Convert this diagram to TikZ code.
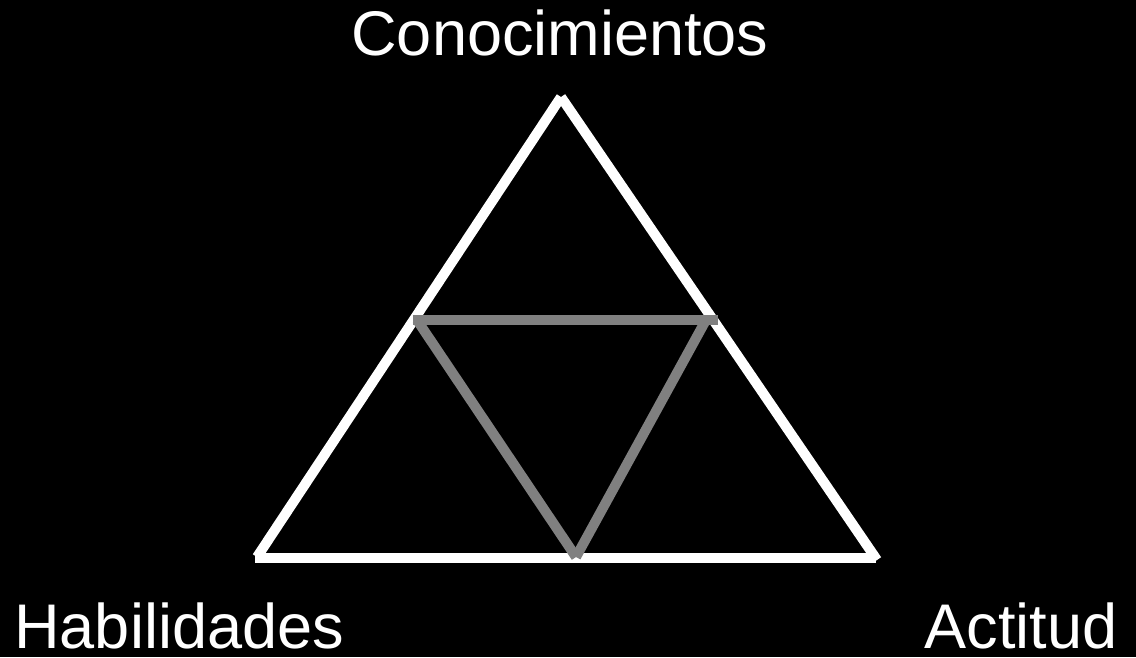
\documentclass[tikz,border=0pt]{standalone}
\usepackage{fontspec}
\setmainfont{Liberation Sans}
\begin{document}
\begin{tikzpicture}[%
      x=0.02cm,y=-0.02cm,
      side/.style={line width=0.2cm,white},
      inner/.style={line width=0.2cm,gray},
      cornertext/.style={text=white,inner sep=0pt,font=\fontsize{35.9}{43}\selectfont}
      ]
      \fill[black] (0,0) rectangle (1136,657);
      \useasboundingbox (0,0) rectangle (1136,657);
      % outer triangle
      \coordinate (top) at (561,97);
      \coordinate (bl) at (257,557);
      \coordinate (br) at (877,560);
      \coordinate (bl2) at (255,558);
      \coordinate (br2) at (876,558);
      \draw[side] (top) -- (bl);
      \draw[side] (top) -- (br);
      \draw[side] (bl2) -- (br2);
      % inner triangle
      \coordinate (hl) at (413,320);
      \coordinate (hr) at (718,320);
      \coordinate (dl) at (417,320);
      \coordinate (dr) at (706,320);
      \coordinate (db) at (576,557);
      \draw[inner] (hl) -- (hr);
      \draw[inner] (dl) -- (db);
      \draw[inner] (dr) -- (db);
      % labels
      \draw (560,55) node[cornertext,anchor=base] (C) {Conocimientos};
      \draw (14,648) node[cornertext,anchor=base west] (H) {Habilidades};
      \draw (1118,648) node[cornertext,anchor=base east] (A) {Actitud};
\end{tikzpicture}
\end{document}
